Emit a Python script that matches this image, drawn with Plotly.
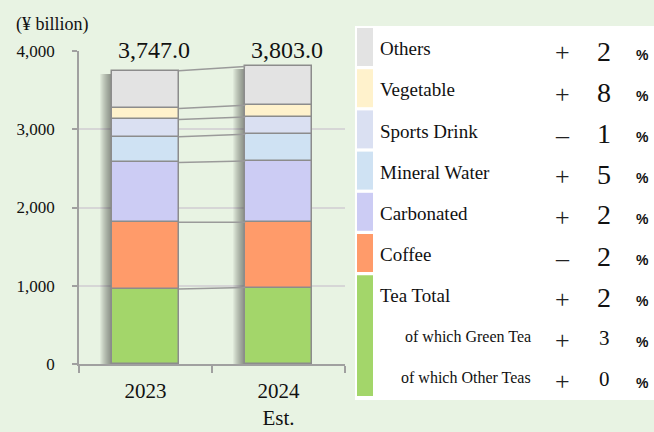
import plotly.graph_objects as go
import numpy as np

# ---------------- data ----------------
years = ["2023", "2024<br>Est."]
categories = ["Tea Total", "Coffee", "Carbonated", "Mineral Water", "Sports Drink", "Vegetable", "Others"]
values_2023 = [958, 852, 766, 327, 222, 141, 481]
values_2024 = [977, 835, 781, 343, 220, 152, 495]
colors = ["#A3D66A", "#FF9B6A", "#CCCCF4", "#CFE2F3", "#DAE0F2", "#FFF2CC", "#E3E3E3"]

legend_labels = ["Others", "Vegetable", "Sports Drink", "Mineral Water", "Carbonated",
                 "Coffee", "Tea Total", "of which Green Tea", "of which Other Teas"]
legend_signs = ["+", "+", "–", "+", "+", "–", "+", "+", "+"]
legend_pcts = [2, 8, 1, 5, 2, 2, 2, 3, 0]
y_ticks = [0, 1000, 2000, 3000, 4000]

# ---------------- layout helpers ----------------
W, H = 654, 432
L, R, T, B = 79, 345, 51, 364
BG = "#E8F3E3"
SERIF = "Liberation Serif"
GRAY = "#A0A0A0"


def px(x):
    return (x - L) / (R - L)


def py(y):
    return (B - y) / (B - T)


xpos = np.arange(len(years))
vals = np.array([values_2023, values_2024]).T  # shape (cat, year)
cum = np.cumsum(vals, axis=0)
base = cum - vals
totals = cum[-1]
bw = 0.5
pxu = 2.0 / (R - L)  # one pixel in x data units

fig = go.Figure()

# soft shadow left of bars
for i in range(1, 13):
    d = i * pxu
    fig.add_trace(go.Bar(
        x=xpos, y=totals * 0.99, base=0, offset=-bw / 2 - d, width=0.1 + d,
        marker=dict(color="rgba(40,40,40,0.05)", line=dict(width=0)),
        hoverinfo="skip", showlegend=False))

# stacked segments
for ci, cat in enumerate(categories):
    fig.add_trace(go.Bar(
        x=xpos, y=vals[ci], base=base[ci], width=bw, name=cat,
        marker=dict(color=colors[ci], line=dict(color="#8C8C8C", width=1.5)),
        showlegend=False))

# connector lines between bars
for ci in range(len(categories)):
    fig.add_trace(go.Scatter(
        x=[xpos[0] + bw / 2, xpos[1] - bw / 2], y=[cum[ci][0], cum[ci][1]],
        mode="lines", line=dict(color="#9A9A9A", width=1.5),
        hoverinfo="skip", showlegend=False))

annotations = []
# totals
for xi, tot in zip(xpos, totals):
    annotations.append(dict(x=xi, y=4000, xref="x", yref="y", text=f"{tot:,.1f}",
                            showarrow=False, yanchor="middle", yshift=1, xshift=8,
                            font=dict(family=SERIF, size=24, color="#111")))
# unit label
annotations.append(dict(x=px(14), y=py(24), xref="paper", yref="paper", text="(¥ billion)",
                        showarrow=False, xanchor="left", yanchor="middle",
                        font=dict(family=SERIF, size=18, color="#111")))

shapes = []
# legend table box
shapes.append(dict(type="rect", xref="paper", yref="paper", x0=px(355), x1=px(654),
                   y0=py(400), y1=py(26), fillcolor="white", line=dict(width=0), layer="below"))
# swatches
swatch_colors = list(reversed(colors))  # Others .. Tea
for i, c in enumerate(swatch_colors):
    y0 = 28 + 41.2 * i
    y1 = 66 + 41.2 * i if i < 6 else 396
    shapes.append(dict(type="rect", xref="paper", yref="paper", x0=px(357), x1=px(373),
                       y0=py(y1), y1=py(y0), fillcolor=c, line=dict(width=0)))

for i, (lab, sg, pc) in enumerate(zip(legend_labels, legend_signs, legend_pcts)):
    yc = 49 + 41 * i
    sub = lab.startswith("of which")
    if sub:
        annotations.append(dict(x=px(533), y=py(yc), xref="paper", yref="paper", text=lab,
                                showarrow=False, xanchor="right", yanchor="middle",
                                font=dict(family=SERIF, size=16, color="#111")))
    else:
        annotations.append(dict(x=px(378), y=py(yc), xref="paper", yref="paper", text=lab,
                                showarrow=False, xanchor="left", yanchor="middle",
                                font=dict(family=SERIF, size=19, color="#111")))
    annotations.append(dict(x=px(562), y=py(yc + 4), xref="paper", yref="paper", text=sg,
                            showarrow=False, xanchor="center", yanchor="middle",
                            font=dict(family=SERIF, size=26, color="#222")))
    annotations.append(dict(x=px(604), y=py(yc + 2), xref="paper", yref="paper", text=str(pc),
                            showarrow=False, xanchor="center", yanchor="middle",
                            font=dict(family=SERIF, size=21 if sub else 28, color="#111")))
    annotations.append(dict(x=px(642), y=py(yc + 6), xref="paper", yref="paper", text="%",
                            showarrow=False, xanchor="center", yanchor="middle",
                            font=dict(family="Liberation Sans", size=14, color="#111", weight="bold")))

fig.update_layout(
    width=W, height=H,
    margin=dict(l=L, r=W - R, t=T, b=H - B, pad=0, autoexpand=False),
    paper_bgcolor=BG, plot_bgcolor=BG,
    barmode="overlay", bargap=0,
    annotations=annotations, shapes=shapes,
    showlegend=False,
    xaxis=dict(range=[-0.5, 1.5], tickvals=list(xpos), ticktext=years, ticks="",
               automargin=False,
               showgrid=False, zeroline=False, showline=True, linecolor=GRAY, linewidth=1.5,
               tickfont=dict(family=SERIF, size=21, color="#111"), ticklabelstandoff=7,
               minor=dict(tickvals=[-0.5, 0.5, 1.5], ticks="outside", ticklen=7,
                          tickcolor=GRAY, tickwidth=1.5, showgrid=False)),
    yaxis=dict(range=[0, 4000], tickvals=y_ticks, tickformat=",", ticks="outside", ticklen=5,
               automargin=False,
               tickcolor=GRAY, tickwidth=1.5, showline=True, linecolor=GRAY, linewidth=1.5,
               gridcolor="#D6D6D6", gridwidth=1.5, zeroline=False,
               tickfont=dict(family=SERIF, size=17, color="#111"), ticklabelstandoff=14),
)

fig.write_html("out.html", config={"displayModeBar": False},
               post_script="document.body.style.margin='0';document.body.style.overflow='hidden';")
